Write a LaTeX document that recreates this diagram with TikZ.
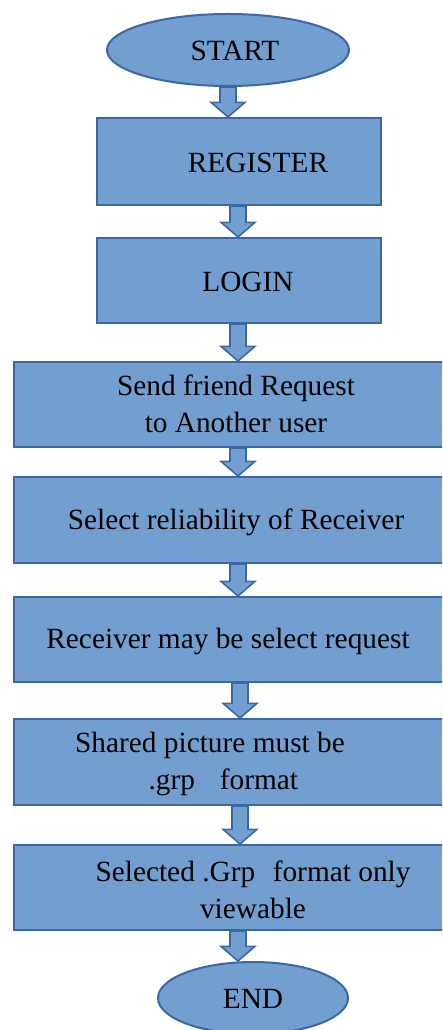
\documentclass[tikz,border=0pt]{standalone}
\usepackage{fontspec}
\setmainfont{Liberation Serif}
\usetikzlibrary{shapes.geometric,calc}
\definecolor{boxfill}{RGB}{114,159,207}
\definecolor{boxline}{RGB}{58,103,165}
\tikzset{
  box/.style={draw=boxline, fill=boxfill, line width=1.5pt, inner sep=0pt},
  oval/.style={ellipse, draw=boxline, fill=boxfill, line width=1.5pt, inner sep=0pt},
  txt/.style={font=\fontsize{22}{27.75}\selectfont, align=center, inner sep=0pt},
  blockarrow/.style={draw=boxline, fill=boxfill, line width=1.2pt, line join=miter}
}
% #1 from node, #2 to node, #3 x position (px)
\newcommand\barrow[3]{%
  \draw[blockarrow] let \p1=(#3,0 |- #1.south), \p2=(#3,0 |- #2.north) in
    (\x1-6pt,\y1) -- (\x1-6pt,\y2+11pt) -- (\x1-12.75pt,\y2+11pt) -- (\x1,\y2)
    -- (\x1+12.75pt,\y2+11pt) -- (\x1+6pt,\y2+11pt) -- (\x1+6pt,\y1) -- cycle;}
\begin{document}
\begin{tikzpicture}[x=0.75pt,y=-0.75pt]
\useasboundingbox (0,0) rectangle (442,1030);
\begin{scope}
\clip (0,0) rectangle (442,1030);
\node[oval, minimum width=242*0.75pt, minimum height=72*0.75pt] (start) at (228,50) {};
\node[txt] at (235,51) {START};
\node[box, minimum width=284*0.75pt, minimum height=87*0.75pt] (reg) at (239,161.5) {};
\node[txt] at (258,163) {REGISTER};
\node[box, minimum width=284*0.75pt, minimum height=85*0.75pt] (login) at (239,280.5) {};
\node[txt] at (248,282) {LOGIN};
\node[box, minimum width=434*0.75pt, minimum height=85*0.75pt] (send) at (231,404.5) {};
\node[txt] at (236,404) {Send friend Request\\to Another user};
\node[box, minimum width=434*0.75pt, minimum height=86*0.75pt] (sel) at (231,520) {};
\node[txt] at (236,522) {Select reliability of Receiver};
\node[box, minimum width=434*0.75pt, minimum height=85*0.75pt] (recv) at (231,639.5) {};
\node[txt] at (228,641) {Receiver may be select request};
\node[box, minimum width=434*0.75pt, minimum height=86*0.75pt] (share) at (231,762) {};
\node[txt, align=left] at (210,764) {Shared picture must be\\\hspace*{55pt}.grp\hspace{0.85em}format};
\node[box, minimum width=434*0.75pt, minimum height=85*0.75pt] (only) at (231,887.5) {};
\node[txt] at (253,890) {Selected .Grp\hspace{0.6em}format only\\viewable};
\node[oval, minimum width=190*0.75pt, minimum height=72*0.75pt] (end) at (253,998) {};
\node[txt] at (253,999) {END};
\barrow{start}{reg}{228}
\barrow{reg}{login}{238}
\barrow{login}{send}{238}
\barrow{send}{sel}{238}
\barrow{sel}{recv}{238}
\barrow{recv}{share}{240}
\barrow{share}{only}{240}
\barrow{only}{end}{238}
\end{scope}
\end{tikzpicture}
\end{document}
